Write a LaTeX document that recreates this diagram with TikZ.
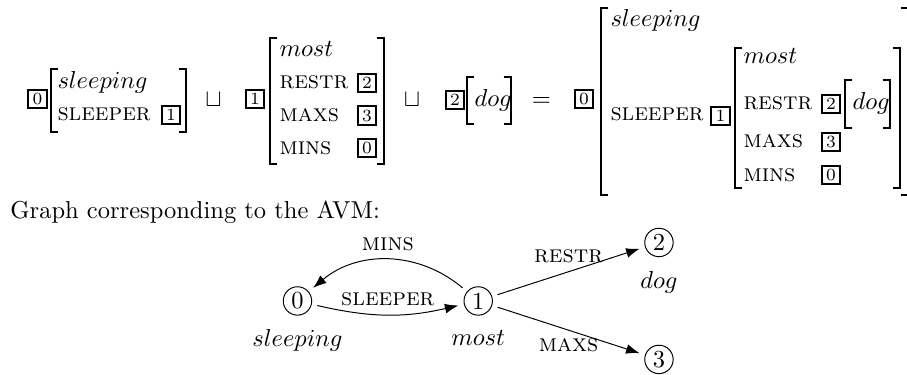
\documentclass[tikz,border=0pt]{standalone}
\usepackage{tikz}
\usetikzlibrary{arrows.meta}
\tikzstyle{tagbox} = [draw, line width=0.9pt, inner sep=0pt, minimum width=7.6pt, minimum height=7.6pt, font=\scriptsize]
\tikzstyle{feat} = [anchor=base west, inner sep=0pt]
\tikzstyle{op} = [anchor=base, inner sep=0pt]
\tikzstyle{brk} = [line width=0.5pt]
\tikzstyle{avmstate} = [circle, draw, minimum size=11.6pt, inner sep=0pt, outer sep=2.5pt]
\tikzstyle{link} = [->, >={Latex[length=5.5pt,width=4pt]}]
\newcommand{\avmbrackets}[4]{%
  \draw[brk] ([xshift=3pt]#1,#3) -| (#1,#4) -- ++(3pt,0);
  \draw[brk] ([xshift=-3pt]#2,#3) -| (#2,#4) -- ++(-3pt,0);}

\begin{document}
\begin{tikzpicture}[node distance=2.593cm]
\useasboundingbox (0,0) rectangle (13.013,-5.380);

\node (t0a) [tagbox] at (0.538,-1.420) {0};
\node (sa) [feat] at (0.818,-1.277) {$sleeping$};
\node (fa) [feat] at (0.818,-1.736) {\textsc{sleeper}};
\node (t1a) [tagbox] at (2.453,-1.650) {1};
\avmbrackets{0.732}{2.669}{-0.990}{-1.894}

\node (u1) [op] at (3.063,-1.535) {$\sqcup$};

\node (t1b) [tagbox] at (3.659,-1.420) {1};
\node (mb) [feat] at (4.003,-0.811) {$most$};
\node (rb) [feat] at (4.003,-1.277) {\textsc{restr}};
\node (xb) [feat] at (4.003,-1.743) {\textsc{maxs}};
\node (nb) [feat] at (4.003,-2.210) {\textsc{mins}};
\node (t2a) [tagbox] at (5.265,-1.191) {2};
\node (t3a) [tagbox] at (5.265,-1.657) {3};
\node (t0b) [tagbox] at (5.265,-2.123) {0};
\avmbrackets{3.874}{5.509}{-0.545}{-2.353}

\node (u2) [op] at (5.911,-1.535) {$\sqcup$};

\node (t2b) [tagbox] at (6.528,-1.435) {2};
\node (db) [feat] at (6.801,-1.535) {$dog$};
\avmbrackets{6.700}{7.331}{-1.105}{-1.779}

\node (eq) [op] at (7.769,-1.535) {$=$};

\node (t0c) [tagbox] at (8.379,-1.420) {0};
\node (sc) [feat] at (8.752,-0.387) {$sleeping$};
\node (fc) [feat] at (8.752,-1.736) {\textsc{sleeper}};
\node (t1c) [tagbox] at (10.337,-1.664) {1};
\avmbrackets{8.623}{13.027}{-0.115}{-2.798}
\node (md) [feat] at (10.660,-0.904) {$most$};
\node (rd) [feat] at (10.660,-1.578) {\textsc{restr}};
\node (xd) [feat] at (10.660,-2.123) {\textsc{maxs}};
\node (nd) [feat] at (10.660,-2.597) {\textsc{mins}};
\node (t2c) [tagbox] at (11.923,-1.492) {2};
\node (t3c) [tagbox] at (11.923,-2.037) {3};
\node (t0d) [tagbox] at (11.923,-2.511) {0};
\node (dd) [feat] at (12.224,-1.578) {$dog$};
\avmbrackets{12.123}{12.769}{-1.148}{-1.836}
\avmbrackets{10.545}{12.913}{-0.689}{-2.697}

\node (txt) [feat] at (0.143,-3.142) {Graph corresponding to the AVM:};

\node (n0) [avmstate, label=below:$sleeping$] at (4.268,-4.318) {0};
\node (n1) [avmstate, right of=n0, label=below:$most$] {1};
\node (n2) [avmstate, right of=n1, yshift=0.839cm, label=below:$dog$] {2};
\node (n3) [avmstate, right of=n1, yshift=-0.839cm] {3};

\draw [link] (n0) to[bend right=13] node[above] {\textsc{sleeper}} (n1);
\draw [link] (n1) to[bend right=40] node[above] {\textsc{mins}} (n0);
\draw [link] (n1) -- node[above] {\textsc{restr}} (n2);
\draw [link] (n1) -- node[below] {\textsc{maxs}} (n3);
\end{tikzpicture}
\end{document}
